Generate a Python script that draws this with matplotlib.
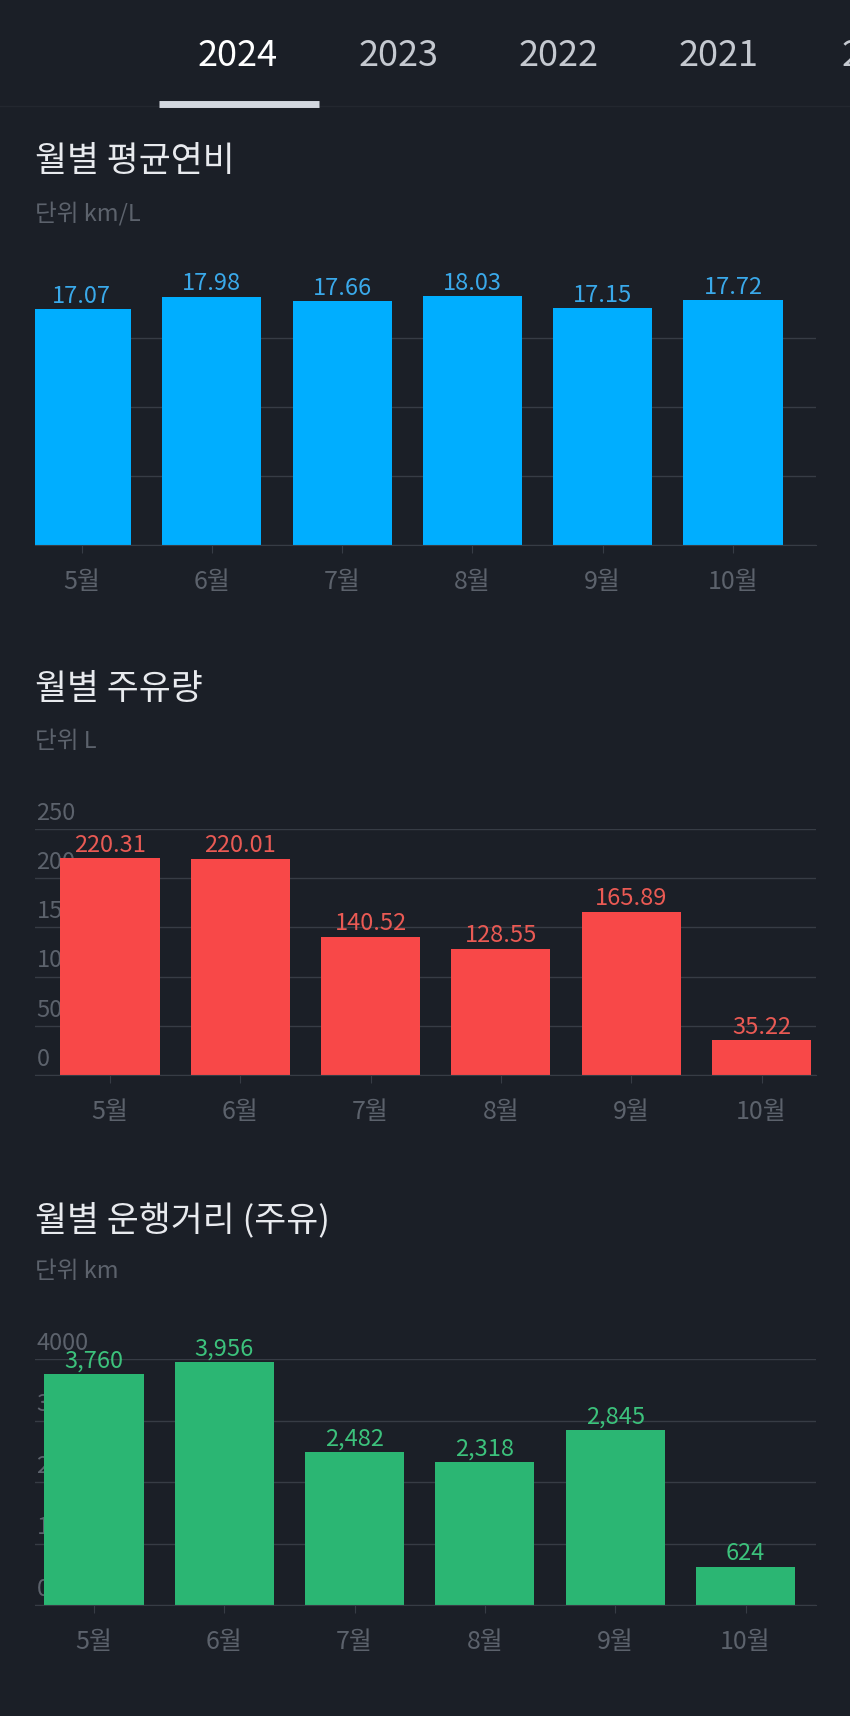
import matplotlib
matplotlib.use("Agg")
import matplotlib.pyplot as plt
import matplotlib.transforms as mtransforms

plt.rcParams["font.family"] = ["Noto Sans CJK KR", "DejaVu Sans"]

BG = "#1b1f27"
GRID = "#373c45"
TICK = "#5c626c"
W, H = 850, 1716

years = ["2024", "2023", "2022", "2021", "2020"]
months = ["5월", "6월", "7월", "8월", "9월", "10월"]
fuel_eff = [17.07, 17.98, 17.66, 18.03, 17.15, 17.72]
fuel_amt = [220.31, 220.01, 140.52, 128.55, 165.89, 35.22]
distance = [3760, 3956, 2482, 2318, 2845, 624]

fig = plt.figure(figsize=(W / 100, H / 100), dpi=100, facecolor=BG)


def px_axes(x0, x1, ybot, ytop):
    return fig.add_axes([x0 / W, 1 - ybot / H, (x1 - x0) / W, (ybot - ytop) / H])


def ftext(x, y, s, **kw):
    fig.text(x / W, 1 - y / H, s, **kw)


# year tabs (the last one is cut off at the right edge, as in the app)
for i, (yr, xc) in enumerate(zip(years, [238, 399, 559, 719, 882])):
    ftext(xc, 56, yr, ha="center", va="center", fontsize=26,
          color="#ffffff" if i == 0 else "#c5c9d0")
fig.add_artist(plt.Line2D([0, 1], [1 - 106 / H] * 2, color="#23272f", lw=1))
fig.add_artist(plt.Line2D([159 / W, 319 / W], [1 - 103.5 / H] * 2,
                          color="#d3d8e0", lw=5, solid_capstyle="butt"))


def chart(vals, color, lab_color, title, unit, ytop_px, ybot_px, ylim, yticks,
          first_x, fmt, ylabels, title_y):
    ax = px_axes(35, 816, ybot_px, ytop_px)
    ax.set_facecolor("none")
    step = 130.3
    ax.set_xlim((35 - first_x) / step, (816 - first_x) / step)
    ax.set_ylim(*ylim)
    x = range(len(vals))
    bars = ax.bar(x, vals, 0.76, color=color, zorder=2)
    for b, v in zip(bars, vals):
        ax.annotate(fmt(v), (b.get_x() + b.get_width() / 2, v), xytext=(0, 1),
                    textcoords="offset points", ha="center", va="bottom",
                    fontsize=17, color=lab_color, zorder=3)
    ax.set_yticks(yticks)
    ax.set_yticklabels([])
    ax.tick_params(axis="y", length=0)
    ax.grid(axis="y", color=GRID, lw=1, zorder=0)
    ax.set_axisbelow(True)
    ax.set_xticks(list(x))
    ax.set_xticklabels(months, fontsize=18, color=TICK)
    ax.tick_params(axis="x", length=6, color=GRID, pad=11)
    for s in ["top", "right", "left"]:
        ax.spines[s].set_visible(False)
    ax.spines["bottom"].set_color(GRID)
    if ylabels:
        tr = mtransforms.blended_transform_factory(ax.transAxes, ax.transData)
        for t in yticks:
            ax.annotate(str(t), (0, t), xycoords=tr, xytext=(1, 3),
                        textcoords="offset points", ha="left", va="bottom",
                        fontsize=17, color=TICK, zorder=1)
    ftext(35, title_y, title, ha="left", va="center", fontsize=25, color="#e8eaee")
    ftext(35, title_y + 52, unit, ha="left", va="center", fontsize=17, color="#5c626c")
    return ax


chart(fuel_eff, "#00aeff", "#3aa9ea", "월별 평균연비", "단위 km/L",
      269, 545, (0, 20), [0, 5, 10, 15], 81.5, lambda v: f"{v:.2f}", False, 162)
chart(fuel_amt, "#f84848", "#ea5a54", "월별 주유량", "단위 L",
      829, 1075, (0, 250), [0, 50, 100, 150, 200, 250], 110, lambda v: f"{v:.2f}", True, 690)
chart(distance, "#2bb673", "#3cc27c", "월별 운행거리 (주유)", "단위 km",
      1359, 1605, (0, 4000), [0, 1000, 2000, 3000, 4000], 94, lambda v: f"{v:,}", True, 1220)

fig.savefig("out.png", dpi=100, facecolor=BG)
